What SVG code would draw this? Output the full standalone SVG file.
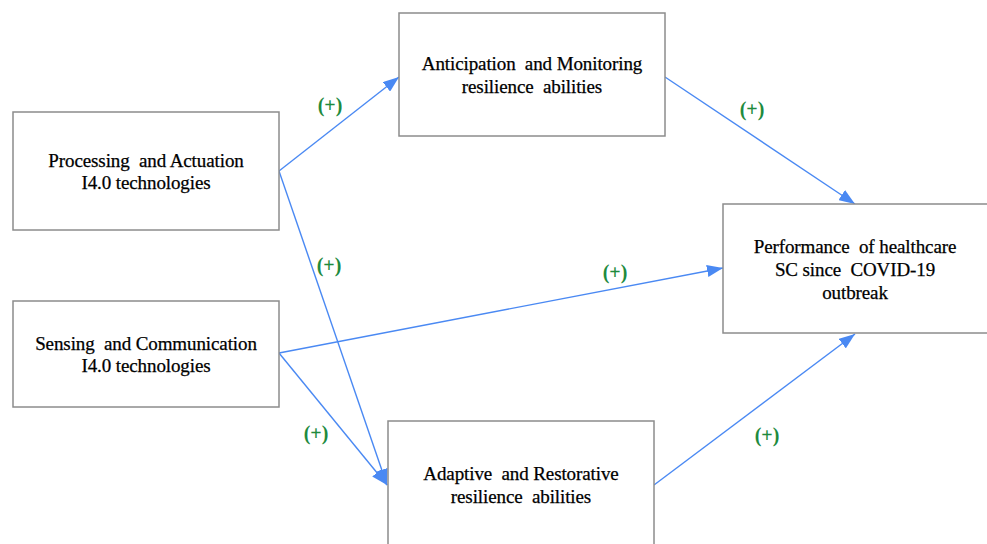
<svg xmlns="http://www.w3.org/2000/svg" width="987" height="544" viewBox="0 0 987 544">
<style>
.box{fill:#fff;stroke:#8c8c8c;stroke-width:1.5}
.t{font-family:"Liberation Serif","Times New Roman",serif;font-size:19px;fill:#000;stroke:#000;stroke-width:0.25;text-anchor:middle;white-space:pre;letter-spacing:-0.1px}
.c{stroke:#4a89f3;stroke-width:1.4;fill:none;marker-end:url(#ah)}
.p{font-family:"Liberation Serif","Times New Roman",serif;font-size:20px;font-weight:bold;fill:#1e8b3e;text-anchor:middle}
</style>
<defs>
<marker id="ah" viewBox="0 0 16 12" refX="16" refY="6" markerWidth="16" markerHeight="12" markerUnits="userSpaceOnUse" orient="auto">
<path d="M0,0 L16,6 L0,12 Z" fill="#4a89f3"/>
</marker>
</defs>
<rect width="987" height="544" fill="#fff"/>
<g id="connectors">
<line class="c" x1="279" y1="171" x2="399" y2="77"/>
<line class="c" x1="279" y1="171" x2="387" y2="485"/>
<line class="c" x1="279" y1="353" x2="387" y2="485"/>
<line class="c" x1="279" y1="353" x2="723" y2="268"/>
<line class="c" x1="665" y1="77" x2="855" y2="204"/>
<line class="c" x1="654" y1="485" x2="855" y2="334"/>
<text class="p" x="330" y="112">(+)</text>
<text class="p" x="752" y="116">(+)</text>
<text class="p" x="329" y="272">(+)</text>
<text class="p" x="615" y="279">(+)</text>
<text class="p" x="316" y="440">(+)</text>
<text class="p" x="767" y="442">(+)</text>
</g>
<g id="node-anticipation">
<rect class="box" x="399" y="13" width="266" height="123"/>
<text class="t" x="532" y="70" xml:space="preserve">Anticipation  and Monitoring</text>
<text class="t" x="532" y="93" xml:space="preserve">resilience  abilities</text>
</g>
<g id="node-processing">
<rect class="box" x="13" y="112" width="266" height="118"/>
<text class="t" x="146" y="167" xml:space="preserve">Processing  and Actuation</text>
<text class="t" x="146" y="189">I4.0 technologies</text>
</g>
<g id="node-sensing">
<rect class="box" x="13" y="301" width="266" height="106"/>
<text class="t" x="146" y="350" xml:space="preserve">Sensing  and Communication</text>
<text class="t" x="146" y="372">I4.0 technologies</text>
</g>
<g id="node-adaptive">
<rect class="box" x="388" y="421" width="266" height="140"/>
<text class="t" x="521" y="480" xml:space="preserve">Adaptive  and Restorative</text>
<text class="t" x="521" y="503" xml:space="preserve">resilience  abilities</text>
</g>
<g id="node-performance">
<rect class="box" x="723" y="204" width="280" height="129"/>
<text class="t" x="855" y="253" xml:space="preserve">Performance  of healthcare</text>
<text class="t" x="855" y="276" xml:space="preserve">SC since  COVID-19</text>
<text class="t" x="855" y="299">outbreak</text>
</g>
</svg>
